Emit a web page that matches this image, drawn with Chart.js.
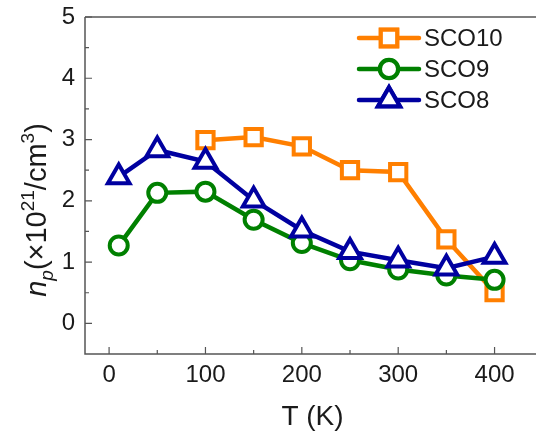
<!DOCTYPE html>
<html>
<head>
<meta charset="utf-8">
<script src="https://cdn.jsdelivr.net/npm/chart.js@4.4.0/dist/chart.umd.min.js"></script>
<style>
  html, body { margin: 0; padding: 0; background: #fff; overflow: hidden; }
  #wrap { width: 536px; height: 441px; }
</style>
</head>
<body>
<div id="wrap"><canvas id="npChart" width="536" height="441"></canvas></div>
<script>
// temperatures (K)
const tempSCO10 = [100, 150, 200, 250, 300, 350, 400];
const tempSCO = [10, 50, 100, 150, 200, 250, 300, 350, 400];

// carrier density n_p (x10^21 / cm^3)
const sco10 = [2.99, 3.04, 2.89, 2.50, 2.47, 1.37, 0.51];
const sco9 = [1.27, 2.13, 2.15, 1.69, 1.31, 1.03, 0.88, 0.78, 0.71];
const sco8 = [2.39, 2.83, 2.64, 2.01, 1.52, 1.17, 1.03, 0.90, 1.09];

const xTicks = [0, 100, 200, 300, 400];
const yTicks = [0, 1, 2, 3, 4, 5];

const FONT = "'Liberation Sans', Arial, sans-serif";
const AXIS = "#555";

function pts(xs, ys) {
  return xs.map((x, i) => ({ x, y: ys[i] }));
}

function series(label, xs, ys, color, style, radius, order) {
  return {
    label,
    order,
    data: pts(xs, ys),
    showLine: true,
    borderColor: color,
    backgroundColor: "#fff",
    borderWidth: 4.5,
    pointStyle: style,
    pointRadius: radius,
    pointHoverRadius: radius,
    pointBorderWidth: 4,
    pointBackgroundColor: "#fff",
    pointBorderColor: color
  };
}

// inward major/minor ticks, axis lines, axis titles, legend
const decor = {
  id: "decor",
  afterDatasetsDraw(chart) {
    const ctx = chart.ctx;
    const { left, top, right, bottom } = chart.chartArea;
    const xs = chart.scales.x, ys = chart.scales.y;
    ctx.save();
    ctx.strokeStyle = AXIS;
    ctx.lineWidth = 1.5;
    ctx.beginPath();
    ctx.moveTo(left, top); ctx.lineTo(right + 2, top);
    ctx.moveTo(left, top); ctx.lineTo(left, bottom);
    ctx.lineTo(right + 2, bottom);
    ctx.stroke();

    ctx.lineWidth = 1.2;
    ctx.beginPath();
    for (let v = 0; v <= 450; v += 50) {
      const px = xs.getPixelForValue(v);
      if (px < left || px > right) continue;
      const len = v % 100 === 0 ? 7 : 4;
      ctx.moveTo(px, bottom); ctx.lineTo(px, bottom - len);
    }
    for (let v = 0; v <= 5; v += 0.5) {
      const py = ys.getPixelForValue(v);
      const len = Number.isInteger(v) ? 7 : 4;
      ctx.moveTo(left, py); ctx.lineTo(left + len, py);
    }
    ctx.stroke();

    // x title
    ctx.fillStyle = "#1a1a1a";
    ctx.font = "28px " + FONT;
    ctx.textAlign = "center";
    ctx.textBaseline = "alphabetic";
    ctx.fillText("T (K)", (left + right) / 2 + 2, 425);

    // y title, rotated
    ctx.translate(46, 210);
    ctx.rotate(-Math.PI / 2);
    const parts = [
      { t: "n", f: "italic 29px " + FONT, dy: 0 },
      { t: "p", f: "italic 19px " + FONT, dy: 7 },
      { t: "(\u00d710", f: "29px " + FONT, dy: 0 },
      { t: "21", f: "19px " + FONT, dy: -12 },
      { t: "/cm", f: "29px " + FONT, dy: 0 },
      { t: "3", f: "19px " + FONT, dy: -12 },
      { t: ")", f: "29px " + FONT, dy: 0 }
    ];
    let total = 0;
    parts.forEach(p => { ctx.font = p.f; p.w = ctx.measureText(p.t).width; total += p.w; });
    let cx = -total / 2;
    ctx.textAlign = "left";
    parts.forEach(p => { ctx.font = p.f; ctx.fillText(p.t, cx, p.dy); cx += p.w; });
    ctx.restore();

    // legend
    ctx.save();
    let ly = 38;
    chart.data.datasets.forEach(ds => {
      ctx.strokeStyle = ds.borderColor;
      ctx.lineWidth = ds.borderWidth;
      ctx.lineCap = "round";
      ctx.beginPath();
      ctx.moveTo(359, ly); ctx.lineTo(419, ly);
      ctx.stroke();
      Chart.helpers.drawPoint(ctx, {
        pointStyle: ds.pointStyle,
        radius: ds.pointRadius,
        borderWidth: ds.pointBorderWidth,
        rotation: 0
      }, 389, ly);
      ctx.fillStyle = "#fff";
      ctx.lineWidth = ds.pointBorderWidth;
      ctx.fill();
      ctx.stroke();
      ctx.fillStyle = "#1a1a1a";
      ctx.font = "24px " + FONT;
      ctx.textAlign = "left";
      ctx.textBaseline = "middle";
      ctx.fillText(ds.label, 424, ly + 1);
      ly += 31;
    });
    ctx.restore();
  }
};

new Chart(document.getElementById("npChart"), {
  type: "scatter",
  data: {
    datasets: [
      series("SCO10", tempSCO10, sco10, "#FF7F00", "rect", 11.5, 3),
      series("SCO9", tempSCO, sco9, "#008000", "circle", 9, 2),
      series("SCO8", tempSCO, sco8, "#0000A0", "triangle", 12.5, 1)
    ]
  },
  options: {
    responsive: false,
    animation: false,
    clip: false,
    layout: { autoPadding: false, padding: { top: 17, right: 0, bottom: 0, left: 0 } },
    plugins: { legend: { display: false }, tooltip: { enabled: false } },
    scales: {
      x: {
        type: "linear",
        min: -25,
        max: 443,
        afterBuildTicks: s => { s.ticks = xTicks.map(v => ({ value: v })); },
        afterFit: s => { s.height = 87; s.paddingLeft = 0; s.paddingRight = 0; },
        grid: { display: false, drawTicks: false },
        border: { display: false },
        ticks: {
          color: "#1a1a1a",
          font: { family: FONT, size: 24 },
          padding: 7,
          maxRotation: 0,
          autoSkip: false
        }
      },
      y: {
        type: "linear",
        min: -0.5,
        max: 5,
        afterBuildTicks: s => { s.ticks = yTicks.map(v => ({ value: v })); },
        afterFit: s => { s.width = 85; s.paddingTop = 0; s.paddingBottom = 0; },
        grid: { display: false, drawTicks: false },
        border: { display: false },
        ticks: {
          color: "#1a1a1a",
          font: { family: FONT, size: 24 },
          padding: 10,
          autoSkip: false
        }
      }
    }
  },
  plugins: [decor]
});
</script>
</body>
</html>
